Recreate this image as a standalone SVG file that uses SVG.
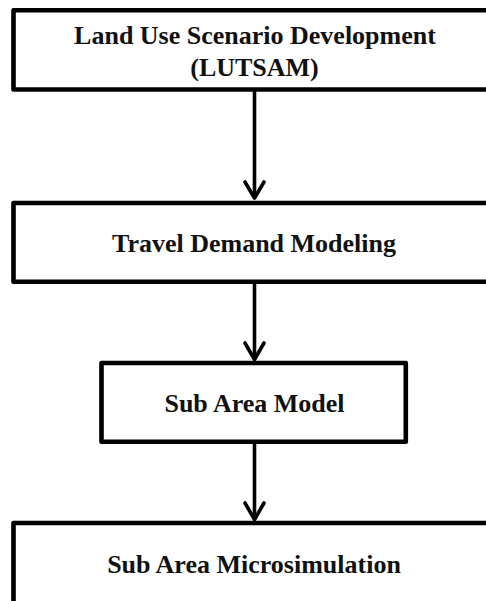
<svg xmlns="http://www.w3.org/2000/svg" width="486" height="601" viewBox="0 0 486 601">
<style>
.box{fill:#fff;stroke:#000;stroke-width:4.6;stroke-linejoin:round}
.lbl{font-family:"Liberation Serif","Times New Roman",serif;font-weight:bold;font-size:26px;fill:#111;text-anchor:middle}
.con{fill:none;stroke:#000;stroke-width:3.6;stroke-linecap:round;stroke-linejoin:round}
</style>
<rect width="486" height="601" fill="#fff"/>
<g id="connectors">
<line class="con" x1="254.5" y1="92" x2="254.5" y2="197"/>
<polyline class="con" points="245,182 254.5,198 264,182"/>
<line class="con" x1="254.5" y1="284" x2="254.5" y2="359"/>
<polyline class="con" points="245,343 254.5,359.5 264,343"/>
<line class="con" x1="254.5" y1="444" x2="254.5" y2="519"/>
<polyline class="con" points="245,503 254.5,519.5 264,503"/>
</g>
<g id="node-land-use">
<rect class="box" x="13.5" y="10.3" width="481" height="79.2"/>
<text class="lbl" x="255" y="44">Land Use Scenario Development</text>
<text class="lbl" x="254.5" y="76">(LUTSAM)</text>
</g>
<g id="node-travel-demand">
<rect class="box" x="13.5" y="203" width="481" height="78.7"/>
<text class="lbl" x="254" y="251.5">Travel Demand Modeling</text>
</g>
<g id="node-sub-area-model">
<rect class="box" x="101.5" y="363" width="304.3" height="78.8"/>
<text class="lbl" x="254.5" y="411.5">Sub Area Model</text>
</g>
<g id="node-sub-area-micro">
<rect class="box" x="13.5" y="523" width="481" height="80.5"/>
<text class="lbl" x="254" y="573">Sub Area Microsimulation</text>
</g>
</svg>
